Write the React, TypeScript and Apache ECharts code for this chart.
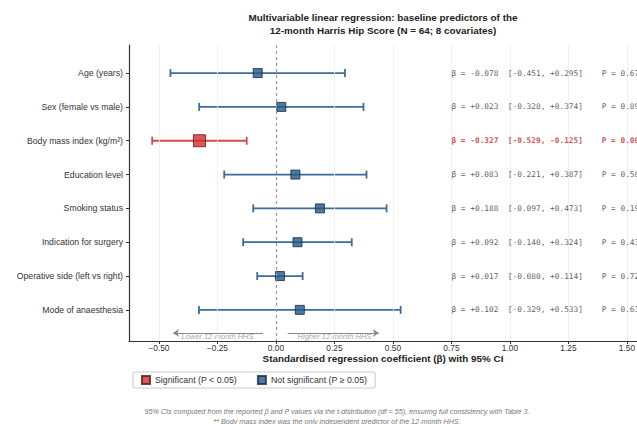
import React, { useEffect, useRef } from "react";
import * as echarts from "echarts";

const categories = [
  "Age (years)",
  "Sex (female vs male)",
  "Body mass index (kg/m²)",
  "Education level",
  "Smoking status",
  "Indication for surgery",
  "Operative side (left vs right)",
  "Mode of anaesthesia",
];
const betas = [-0.078, 0.023, -0.327, 0.083, 0.188, 0.092, 0.017, 0.102];
const ciLow = [-0.451, -0.328, -0.529, -0.221, -0.097, -0.14, -0.08, -0.329];
const ciHigh = [0.295, 0.374, -0.125, 0.387, 0.473, 0.324, 0.114, 0.533];
const pValues = [0.677, 0.896, 0.002, 0.586, 0.192, 0.43, 0.727, 0.637];
const xTicks = [-0.5, -0.25, 0, 0.25, 0.5, 0.75, 1, 1.25, 1.5];
const gridLineValues = [-0.5, -0.25, 0.25, 0.5, 0.75, 1, 1.25, 1.5];
const annotationX = 0.75;
const arrowRow = 7.68;
const arrowTextRow = 7.8;

const RED_LINE = "#d64a4a";
const RED_FILL = "#d32f2f";
const RED_EDGE = "#5e1616";
const BLUE_LINE = "#3b6d97";
const BLUE_FILL = "#235786";
const BLUE_EDGE = "#112c47";

const fmt = (v: number) => (v >= 0 ? "+" : "-") + Math.abs(v).toFixed(3);
const tickFmt = (v: number) => (v < 0 ? "\u2212" : "") + Math.abs(v).toFixed(2);

export default function App() {
  const ref = useRef<HTMLDivElement>(null);
  useEffect(() => {
    if (!ref.current) return;
    const chart = echarts.init(ref.current, null, { renderer: "svg" });
    const sig = pValues.map((p) => p < 0.05);
    const idx = categories.map((_, i) => i);

    const option: any = {
      animation: false,
      backgroundColor: "#ffffff",
      textStyle: { fontFamily: "Liberation Sans" },
      grid: {
        left: 129,
        top: 45,
        bottom: 83,
        right: -41.4,
        outerBoundsMode: "none",
        containLabel: false,
      },
      legend: {
        left: 133,
        top: 372,
        orient: "horizontal",
        data: ["Significant (P < 0.05)", "Not significant (P \u2265 0.05)"],
        icon: "rect",
        itemWidth: 8,
        itemHeight: 8,
        itemGap: 20,
        padding: [3, 8, 3, 8],
        borderColor: "#bbbbbb",
        borderWidth: 0.8,
        borderRadius: 2,
        textStyle: { fontSize: 8.8, color: "#333", fontFamily: "Liberation Sans" },
      },
      xAxis: {
        type: "value",
        min: -0.628,
        max: 1.72,
        axisLine: { show: true, onZero: false, lineStyle: { color: "#333", width: 1.2 } },
        axisTick: { show: true, customValues: xTicks, length: 3, lineStyle: { color: "#333" } },
        axisLabel: {
          customValues: xTicks,
          formatter: (v: number) => tickFmt(v),
          fontSize: 8.3,
          color: "#333",
          margin: 3,
          fontFamily: "Liberation Sans",
        },
        splitLine: { show: false },
      },
      yAxis: {
        type: "value",
        inverse: true,
        min: -0.83,
        max: 7.92,
        axisLine: { show: true, onZero: false, lineStyle: { color: "#333", width: 1.2 } },
        axisTick: { show: true, customValues: idx, length: 3, lineStyle: { color: "#333" } },
        axisLabel: {
          customValues: idx,
          formatter: (v: number) => categories[Math.round(v)] ?? "",
          fontSize: 8.7,
          color: "#333",
          margin: 6,
          fontFamily: "Liberation Sans",
        },
        splitLine: { show: false },
      },
      graphic: [
        {
          type: "text",
          x: 383,
          y: 11,
          style: {
            text: "Multivariable linear regression: baseline predictors of the\n12-month Harris Hip Score (N = 64; 8 covariates)",
            textAlign: "center",
            textVerticalAlign: "top",
            fontFamily: "Liberation Sans",
            fontWeight: "bold",
            fontSize: 9.9,
            lineHeight: 13,
            fill: "#222",
          },
        },
        {
          type: "text",
          x: 383,
          y: 353,
          style: {
            text: "Standardised regression coefficient (\u03b2) with 95% CI",
            textAlign: "center",
            textVerticalAlign: "top",
            fontFamily: "Liberation Sans",
            fontWeight: "bold",
            fontSize: 9.9,
            fill: "#222",
          },
        },
        {
          type: "text",
          x: 337,
          y: 407,
          style: {
            text: "95% CIs computed from the reported \u03b2 and P values via the t-distribution (df = 55), ensuring full consistency with Table 3.\n** Body mass index was the only independent predictor of the 12-month HHS.",
            textAlign: "center",
            textVerticalAlign: "top",
            fontFamily: "Liberation Sans",
            fontStyle: "italic",
            fontSize: 7.2,
            lineHeight: 9.5,
            fill: "#777",
          },
        },
      ],
      series: [
        {
          type: "scatter",
          name: "gridlines",
          data: [],
          z: 0,
          markLine: {
            silent: true,
            symbol: "none",
            label: { show: false },
            lineStyle: { color: "#eeeeee", width: 0.8, type: "solid" },
            data: gridLineValues.map((v) => ({ xAxis: v })),
          },
        },
        {
          type: "scatter",
          name: "zero",
          data: [],
          z: 1,
          markLine: {
            silent: true,
            symbol: "none",
            label: { show: false },
            lineStyle: { color: "#999999", width: 1.2, type: [3, 3] },
            data: [{ xAxis: 0 }],
          },
        },
        {
          type: "scatter",
          name: "arrows",
          data: [
            { value: [-0.25, arrowTextRow], label: { formatter: "Lower 12-month HHS" } },
            { value: [0.25, arrowTextRow], label: { formatter: "Higher 12-month HHS" } },
          ],
          symbolSize: 0.1,
          itemStyle: { color: "transparent" },
          silent: true,
          z: 2,
          label: {
            show: true,
            position: "inside",
            fontSize: 7.5,
            fontStyle: "italic",
            color: "#8a8a8a",
            fontFamily: "Liberation Sans",
          },
          markLine: {
            silent: true,
            symbol: ["none", "arrow"],
            symbolSize: 6,
            label: { show: false },
            lineStyle: { color: "#888", width: 1, type: "solid" },
            data: [
              [{ coord: [-0.055, arrowRow] }, { coord: [-0.44, arrowRow] }],
              [{ coord: [0.05, arrowRow] }, { coord: [0.44, arrowRow] }],
            ],
          },
        },
        {
          type: "custom",
          name: "ci",
          z: 3,
          data: idx.map((i) => [ciLow[i], ciHigh[i], i, sig[i] ? 1 : 0]),
          encode: { x: [0, 1], y: 2 },
          renderItem: (params: any, api: any) => {
            const lo = api.value(0);
            const hi = api.value(1);
            const row = api.value(2);
            const s = api.value(3);
            const p1 = api.coord([lo, row]);
            const p2 = api.coord([hi, row]);
            const h = 4;
            const style = { stroke: s ? RED_LINE : BLUE_LINE, lineWidth: 1.8, fill: null };
            return {
              type: "group",
              children: [
                { type: "line", shape: { x1: p1[0], y1: p1[1], x2: p2[0], y2: p2[1] }, style },
                { type: "line", shape: { x1: p1[0], y1: p1[1] - h, x2: p1[0], y2: p1[1] + h }, style },
                { type: "line", shape: { x1: p2[0], y1: p2[1] - h, x2: p2[0], y2: p2[1] + h }, style },
              ],
            };
          },
        },
        {
          type: "scatter",
          name: "Significant (P < 0.05)",
          z: 4,
          symbol: "rect",
          symbolSize: 12,
          itemStyle: { color: RED_FILL, borderColor: RED_EDGE, borderWidth: 1 },
          data: idx.filter((i) => sig[i]).map((i) => [betas[i], i]),
        },
        {
          type: "scatter",
          name: "Not significant (P \u2265 0.05)",
          z: 4,
          symbol: "rect",
          symbolSize: 9,
          itemStyle: { color: BLUE_FILL, borderColor: BLUE_EDGE, borderWidth: 1 },
          data: idx.filter((i) => !sig[i]).map((i) => [betas[i], i]),
        },
        {
          type: "scatter",
          name: "annotations",
          z: 5,
          symbolSize: 0.1,
          silent: true,
          itemStyle: { color: "transparent" },
          data: idx.map((i) => ({
            value: [annotationX, i],
            label: {
              formatter:
                "\u03b2 = " + fmt(betas[i]) + "  [" + fmt(ciLow[i]) + ", " + fmt(ciHigh[i]) + "]    P = " + pValues[i].toFixed(3),
              color: sig[i] ? "#c62828" : "#333333",
              fontWeight: sig[i] ? "bold" : "normal",
            },
          })),
          label: {
            show: true,
            position: "right",
            distance: 0,
            color: "#333333",
            fontSize: 7.8,
            fontFamily: "DejaVu Sans Mono",
          },
        },
      ],
    };
    chart.setOption(option);
    return () => chart.dispose();
  }, []);
  return (
    <div
      ref={ref}
      style={{ position: "fixed", left: 0, top: 0, width: 637, height: 424, background: "#fff" }}
    />
  );
}
